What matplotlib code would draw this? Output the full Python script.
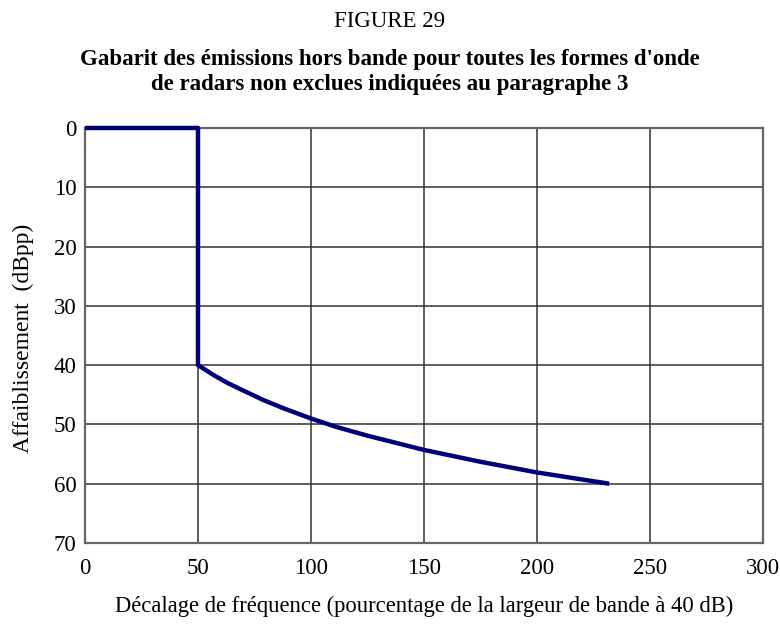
import matplotlib
matplotlib.use("Agg")
import matplotlib.pyplot as plt

# Data
x_offset = [0, 50, 50, 57, 63, 69, 79, 88, 100, 111, 125, 150, 175, 200, 232]
attenuation = [0, 0, 40, 41.7, 43.0, 44.1, 45.9, 47.3, 49.0, 50.4, 51.9, 54.3, 56.3, 58.1, 60.0]
x_ticks = [0, 50, 100, 150, 200, 250, 300]
y_ticks = [0, 10, 20, 30, 40, 50, 60, 70]

plt.rcParams['font.family'] = ['Liberation Serif', 'DejaVu Serif']

fig = plt.figure(figsize=(7.8, 6.26), dpi=100)
ax = fig.add_axes([0.109, 0.1326, 0.869, 0.663])

ax.plot(x_offset, attenuation, color='#00007a', linewidth=3.2,
        solid_capstyle='butt', solid_joinstyle='round', zorder=3, clip_on=False)

ax.set_xlim(0, 300)
ax.set_ylim(70, 0)
ax.set_xticks(x_ticks)
ax.set_yticks(y_ticks)
ax.tick_params(length=0, labelsize=16.5)
ax.tick_params(axis='x', pad=11)
ax.tick_params(axis='y', pad=6)
ax.grid(True, color='#333333', linewidth=1.1)
ax.set_axisbelow(True)
for s in ax.spines.values():
    s.set_color('#666666')
    s.set_linewidth(1.6)

fig.text(0.5435, 0.0225, "Décalage de fréquence (pourcentage de la largeur de bande à 40 dB)",
         ha='center', va='baseline', fontsize=16.3)
fig.text(0.030, 0.46, "Affaiblissement  (dBpp)", ha='center', va='center',
         rotation=90, fontsize=17)

fig.text(0.5, 0.957, "FIGURE 29", ha='center', va='baseline', fontsize=16.5)
fig.text(0.5, 0.896, "Gabarit des émissions hors bande pour toutes les formes d'onde",
         ha='center', va='baseline', fontsize=16.5, fontweight='bold')
fig.text(0.5, 0.856, "de radars non exclues indiquées au paragraphe 3",
         ha='center', va='baseline', fontsize=16.5, fontweight='bold')

fig.savefig("out.png", dpi=100)
